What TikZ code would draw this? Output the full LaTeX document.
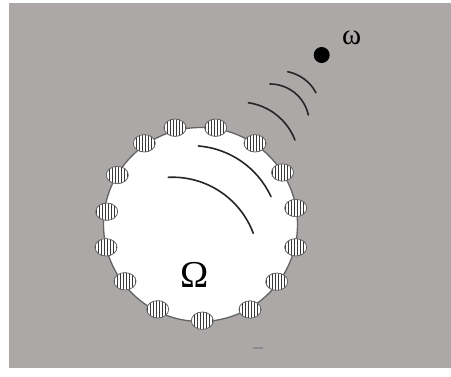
\documentclass[tikz,border=0pt]{standalone}
\usepackage{fontspec}
\setmainfont{Liberation Serif}
\usetikzlibrary{calc}
\definecolor{bggray}{RGB}{171,168,167}
\definecolor{rimgray}{RGB}{100,100,100}
\definecolor{stripegray}{RGB}{55,55,55}
\tikzset{
  rim/.style={draw=rimgray, line width=1.3pt, fill=white},
  wave/.style={draw=black!85, line width=1.6pt, line cap=round},
  ellrim/.style={draw=rimgray, line width=0.8pt},
}
\newcommand{\stripell}[2]{%
  \begin{scope}
    \clip (#1,#2) ellipse [x radius=11, y radius=8.7];
    \fill[white] (#1,#2) ellipse [x radius=11, y radius=8.7];
    \foreach \d in {-10.5,-7.5,...,10.5}
      \draw[stripegray, line width=0.75pt] ($(#1,#2)+(\d,-10)$) -- ($(#1,#2)+(\d,10)$);
  \end{scope}
  \draw[ellrim] (#1,#2) ellipse [x radius=11, y radius=8.7];
}
\newcommand{\wavearc}[5]{% cx cy r start end
  \draw[wave] ($(#1,#2)+(#4:#3)$) arc[start angle=#4, end angle=#5, radius=#3];
}
\begin{document}
\begin{tikzpicture}[x=1pt,y=-1pt]
\useasboundingbox (0,0) rectangle (451,376);
\fill[white] (0,0) rectangle (451,376);
\fill[bggray] (9,3) rectangle (451,368);
% domain
\draw[rim] (200.5,224.5) circle [radius=97];
% sensors
\stripell{175}{127.7}
\stripell{215.7}{127.7}
\stripell{255}{143.3}
\stripell{282.5}{172.5}
\stripell{295.7}{208}
\stripell{295.7}{247.3}
\stripell{276.7}{281.7}
\stripell{250}{309.5}
\stripell{202.3}{320.7}
\stripell{157.7}{309.3}
\stripell{125}{281.3}
\stripell{106}{247.3}
\stripell{106.7}{211.7}
\stripell{117.3}{175}
\stripell{144.3}{143.3}
% inner waves
\wavearc{191.5}{233.2}{87.5}{-85.5}{-24.7}
\wavearc{172.5}{263.4}{86.2}{-92.8}{-20.4}
% outer waves
\wavearc{280}{111.6}{40.6}{-79.1}{-27.7}
\wavearc{270}{123.2}{39.2}{-90}{-12.1}
\wavearc{239.8}{161.2}{59.1}{-81.7}{-21.0}
% source
\node[circle, fill=black, inner sep=0pt, minimum size=16pt] (src) at (321.7,55) {};
\node (omega) at (351.7,38) {\fontsize{29}{32}\selectfont ω};
\node (Omega) at (195,275) {\fontsize{38}{40}\selectfont Ω};
\draw[black!45, line width=1.2pt] (253,348) -- (263,348);
\end{tikzpicture}
\end{document}
